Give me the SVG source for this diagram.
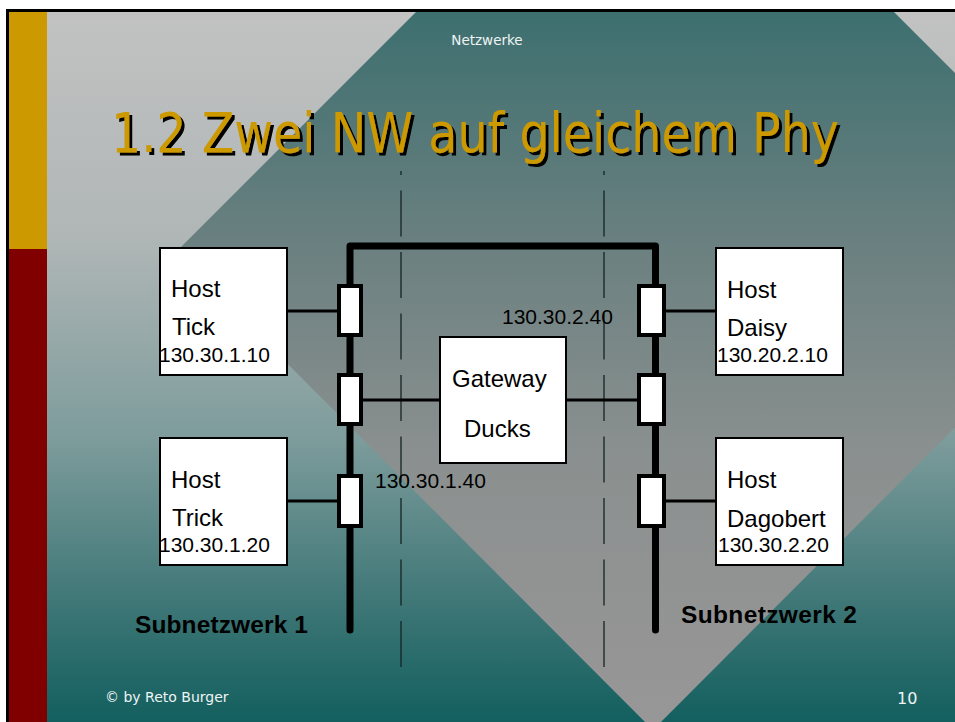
<svg xmlns="http://www.w3.org/2000/svg" width="955" height="722" viewBox="0 0 955 722">
<style>
.box{fill:#fff;stroke:#000;stroke-width:2}
.trx{fill:#fff;stroke:#000;stroke-width:4}
.lbl{font-family:"Liberation Sans",Arial,sans-serif;font-size:24px;fill:#000}
.ip{font-family:"Liberation Sans",Arial,sans-serif;font-size:21px;fill:#000}
.sub{font-family:"Liberation Sans",Arial,sans-serif;font-size:24.5px;font-weight:bold;fill:#000}
.foot{font-family:"DejaVu Sans",Verdana,sans-serif;fill:#eef4f4}
.link{stroke:#000;stroke-width:3;fill:none}
.dash{stroke:#152424;stroke-width:1.3;stroke-dasharray:46 15.5;stroke-dashoffset:42;fill:none}
</style>
<defs>
<linearGradient id="bg" gradientUnits="userSpaceOnUse" x1="0" y1="10" x2="0" y2="722">
<stop offset="0" stop-color="#c2c2c2"/>
<stop offset="0.32" stop-color="#b0b6b6"/>
<stop offset="0.6" stop-color="#7e9c9c"/>
<stop offset="0.85" stop-color="#3a7474"/>
<stop offset="1" stop-color="#135f5f"/>
</linearGradient>
<linearGradient id="dm" gradientUnits="userSpaceOnUse" x1="0" y1="10" x2="0" y2="722">
<stop offset="0" stop-color="#3d6f6f"/>
<stop offset="0.33" stop-color="#6b8080"/>
<stop offset="0.62" stop-color="#8a908f"/>
<stop offset="0.88" stop-color="#949494"/>
<stop offset="1" stop-color="#979797"/>
</linearGradient>
<clipPath id="slide"><rect x="9" y="12" width="946" height="710"/></clipPath>
<filter id="shadow" x="-5%" y="-20%" width="110%" height="140%">
<feOffset in="SourceAlpha" dx="2.5" dy="2.5" result="o"/>
<feGaussianBlur in="o" stdDeviation="0.5" result="b"/>
<feFlood flood-color="#000"/>
<feComposite in2="b" operator="in" result="s"/>
<feMerge><feMergeNode in="s"/><feMergeNode in="SourceGraphic"/></feMerge>
</filter>
</defs>

<g id="background">
<rect x="0" y="0" width="955" height="722" fill="#fff"/>
<g clip-path="url(#slide)">
<rect x="9" y="12" width="946" height="710" fill="url(#bg)"/>
<polygon points="655,-227 1132,250 653,730 176,252" fill="url(#dm)"/>
</g>
<rect x="9" y="12" width="38" height="237" fill="#cc9900"/>
<rect x="9" y="249" width="38" height="473" fill="#800000"/>
<rect x="7.5" y="10.5" width="960" height="730" fill="none" stroke="#000" stroke-width="3"/>
</g>

<g id="header">
<text x="487" y="45" class="foot" font-size="13.5" text-anchor="middle">Netzwerke</text>
<text x="111" y="152" font-family="DejaVu Sans,Verdana,sans-serif" font-size="55" fill="#cc9900" textLength="728" lengthAdjust="spacingAndGlyphs" filter="url(#shadow)">1.2 Zwei NW auf gleichem Phy</text>
</g>

<g id="guides">
<line x1="401" y1="171" x2="401" y2="667" class="dash"/>
<line x1="604" y1="171" x2="604" y2="667" class="dash"/>
</g>

<g id="connectors">
<path d="M350,630 L350,246 L655.5,246 L655.5,630" fill="none" stroke="#000" stroke-width="7" stroke-linecap="round" stroke-linejoin="round"/>
<path class="link" d="M287,311 H338"/>
<path class="link" d="M287,501 H338"/>
<path class="link" d="M665,311 H716"/>
<path class="link" d="M665,501 H716"/>
<path class="link" d="M362,400 H440"/>
<path class="link" d="M566,400 H638"/>
</g>

<g id="transceivers">
<rect class="trx" x="339" y="286" width="22" height="49"/>
<rect class="trx" x="339" y="375" width="22" height="49"/>
<rect class="trx" x="339" y="476" width="22" height="50"/>
<rect class="trx" x="639" y="286" width="25" height="49"/>
<rect class="trx" x="639" y="375" width="25" height="49"/>
<rect class="trx" x="639" y="476" width="25" height="50"/>
</g>

<g id="host-tick">
<rect class="box" x="160" y="248" width="127" height="127"/>
<text class="lbl" x="171" y="297">Host</text>
<text class="lbl" x="172" y="335">Tick</text>
<text class="ip" x="159" y="362">130.30.1.10</text>
</g>

<g id="host-trick">
<rect class="box" x="160" y="438" width="127" height="127"/>
<text class="lbl" x="171" y="488">Host</text>
<text class="lbl" x="172" y="526">Trick</text>
<text class="ip" x="159" y="552">130.30.1.20</text>
</g>

<g id="host-daisy">
<rect class="box" x="716" y="248" width="127" height="127"/>
<text class="lbl" x="727" y="298">Host</text>
<text class="lbl" x="727" y="336">Daisy</text>
<text class="ip" x="717" y="362">130.20.2.10</text>
</g>

<g id="host-dagobert">
<rect class="box" x="716" y="438" width="127" height="127"/>
<text class="lbl" x="727" y="488">Host</text>
<text class="lbl" x="727" y="527">Dagobert</text>
<text class="ip" x="718" y="552">130.30.2.20</text>
</g>

<g id="gateway-ducks">
<rect class="box" x="440" y="337" width="126" height="126"/>
<text class="lbl" x="452" y="387">Gateway</text>
<text class="lbl" x="464" y="437">Ducks</text>
</g>

<g id="addresses">
<text class="ip" x="502" y="324">130.30.2.40</text>
<text class="ip" x="375" y="488">130.30.1.40</text>
</g>

<g id="subnet-labels">
<text class="sub" x="135" y="633" textLength="173">Subnetzwerk 1</text>
<text class="sub" x="681" y="623" textLength="176">Subnetzwerk 2</text>
</g>

<g id="footer">
<text class="foot" x="105" y="702" font-size="14">© by Reto Burger</text>
<text class="foot" x="897" y="704" font-size="16">10</text>
</g>
</svg>
